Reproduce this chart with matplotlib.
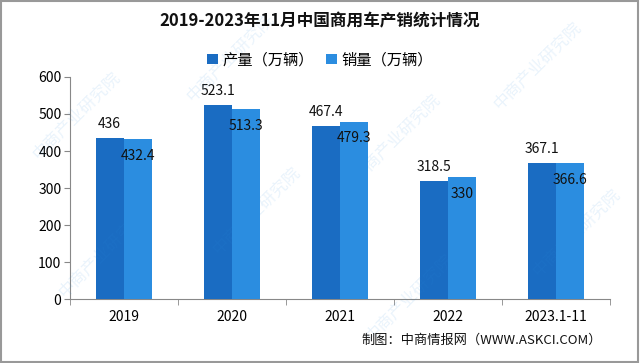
import matplotlib.pyplot as plt
import numpy as np
from matplotlib.patches import Rectangle

plt.rcParams['font.family'] = ['Noto Sans CJK SC', 'DejaVu Sans']

# data
years = ["2019", "2020", "2021", "2022", "2023.1-11"]
production = [436, 523.1, 467.4, 318.5, 367.1]
sales = [432.4, 513.3, 479.3, 330, 366.6]
prod_labels = ["436", "523.1", "467.4", "318.5", "367.1"]
sales_labels = ["432.4", "513.3", "479.3", "330", "366.6"]

C_PROD = "#1a6cc2"
C_SALE = "#2b8de0"

fig = plt.figure(figsize=(6.4, 3.63), dpi=100)
ax = fig.add_axes([0.109, 0.176, 0.844, 0.612])

x = np.arange(len(years))
w = 0.26
b1 = ax.bar(x - w / 2, production, w, color=C_PROD, label="产量（万辆）", zorder=3)
b2 = ax.bar(x + w / 2, sales, w, color=C_SALE, label="销量（万辆）", zorder=3)

for xi, v, s in zip(x, production, prod_labels):
    ax.annotate(s, (xi - w / 2, v), xytext=(0, 5), textcoords="offset points",
                ha="center", va="bottom", fontsize=10, color="#111111", zorder=5)
for xi, v, s in zip(x, sales, sales_labels):
    ax.annotate(s, (xi + w / 2, v), xytext=(0, -12), textcoords="offset points",
                ha="center", va="center", fontsize=10, color="#111111", zorder=5)

ax.set_xlim(-0.5, len(years) - 0.5)
ax.set_ylim(0, 600)
ax.set_yticks(range(0, 601, 100))
ax.set_xticks(x)
ax.set_xticklabels(years)
ax.set_xticks(np.arange(-0.5, len(years)), minor=True)
ax.tick_params(axis="x", which="major", length=0, pad=8, labelsize=10)
ax.tick_params(axis="x", which="minor", length=4, color="#888888")
ax.tick_params(axis="y", length=4, color="#888888", labelsize=10, pad=2)
for sp in ["top", "right"]:
    ax.spines[sp].set_visible(False)
for sp in ["left", "bottom"]:
    ax.spines[sp].set_color("#888888")

leg = fig.legend(handles=[b1, b2], loc="center", bbox_to_anchor=(0.5, 0.835), ncol=2,
                 frameon=False, fontsize=11, handlelength=0.7, handleheight=0.7,
                 columnspacing=0.8, handletextpad=0.3)

fig.text(0.5, 0.94, "2019-2023年11月中国商用车产销统计情况", ha="center", va="center",
         fontsize=12, fontweight="bold", color="#111111")
fig.text(0.94, 0.063, "制图：中商情报网（WWW.ASKCI.COM）", ha="right", va="center",
         fontsize=9.5, color="#111111")

# faint watermarks
for (wx, wy) in [(0.36, 0.84), (0.16, 0.30), (0.40, 0.42), (0.62, 0.62), (0.84, 0.82),
                 (0.64, 0.18), (0.90, 0.36), (0.12, 0.68)]:
    fig.text(wx, wy, "中商产业研究院", rotation=45, ha="center", va="center",
             fontsize=12, color="#2b8de0", alpha=0.10, zorder=0)

fig.patches.append(Rectangle((0.002, 0.003), 0.995, 0.994, transform=fig.transFigure,
                             fill=False, edgecolor="#999999", lw=1.5))

fig.savefig("out.png", dpi=100)
